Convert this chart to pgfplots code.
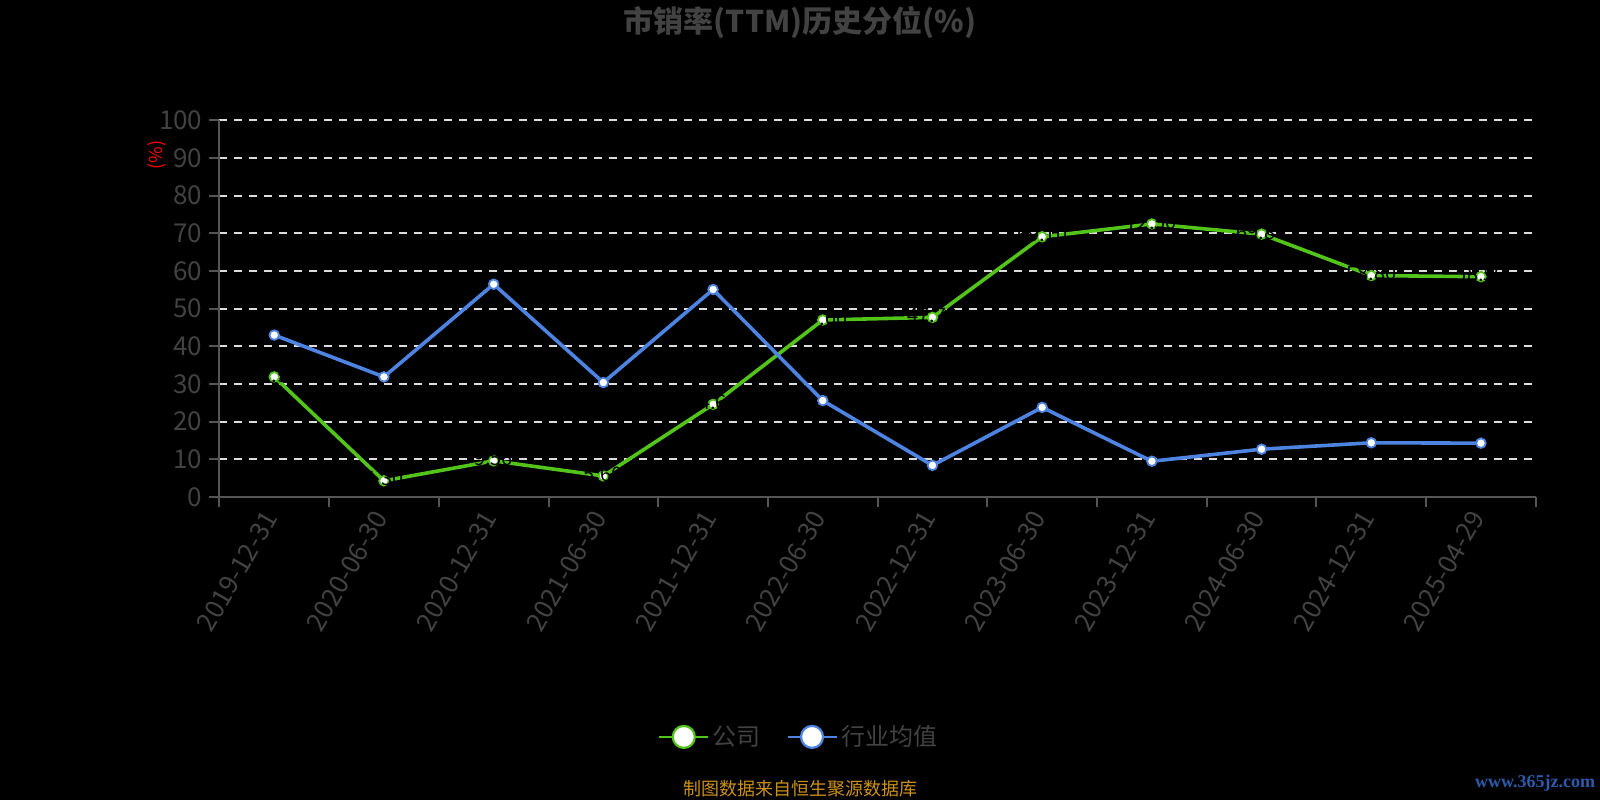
\documentclass[border=0pt]{standalone}
\usepackage{fontspec}
\setmainfont{Noto Sans CJK SC}
\usepackage{pgfplots}
\pgfplotsset{compat=1.18}

\definecolor{txt}{RGB}{66,66,66}
\definecolor{axc}{RGB}{85,85,85}
\definecolor{gridc}{RGB}{220,220,220}
\definecolor{gs}{RGB}{82,196,26}
\definecolor{hy}{RGB}{77,132,226}
\definecolor{foot}{RGB}{204,145,26}
\definecolor{wm}{RGB}{45,90,170}

\begin{document}
\begin{tikzpicture}
\fill[black] (0,0) rectangle (800pt,400pt);
\useasboundingbox (0,0) rectangle (800pt,400pt);

% title
\node[text=txt, font=\fontsize{15pt}{18pt}\selectfont\bfseries] at (400pt,388.7pt) {市销率(TTM)历史分位(\%)};
% y unit
\node[text=red, rotate=90, font=\fontsize{9pt}{11pt}\selectfont] at (78.5pt,322.5pt) {(\%)};

\begin{axis}[
  at={(109.7pt,151.5pt)}, anchor=south west,
  scale only axis, width=658.2pt, height=188.3pt,
  xmin=-0.5, xmax=11.5, ymin=0, ymax=100,
  axis x line*=bottom, axis y line*=left,
  axis line style={draw=axc, line width=1pt},
  tick align=outside, major tick length=5pt,
  tick style={draw=axc, line width=1pt},
  ytick={10,20,...,100},
  extra y ticks={0}, extra y tick style={grid=none},
  ymajorgrids,
  grid style={draw=gridc, line width=1pt, dash pattern=on 4pt off 3.5pt},
  xtick={-0.5,0.5,...,11.5},
  xticklabels={2019-12-31,2020-06-30,2020-12-31,2021-06-30,2021-12-31,2022-06-30,2022-12-31,2023-06-30,2023-12-31,2024-06-30,2024-12-31,2025-04-29,{}},
  xticklabel style={xshift=27.4pt, rotate=60, anchor=east, text=txt, font=\fontsize{13pt}{15pt}\selectfont},
  yticklabel style={text=txt, font=\fontsize{13pt}{15pt}\selectfont},
  /pgf/number format/assume math mode=true,
  legend image code/.code={
    \draw[#1, line width=0.6pt] (0pt,0pt) -- (24.5pt,0pt);
    \draw[#1, fill=white, line width=1.1pt] (12.25pt,0pt) circle (5.5pt);
  },
  legend style={draw=none, fill=none, text=txt, font=\fontsize{12pt}{14pt}\selectfont,
    at={(0.441,-0.637)}, anchor=center,
    /tikz/every even column/.append style={column sep=11pt}},
  legend columns=2,
]
\addplot[draw=gs, line width=1.8pt, mark=*, mark size=2.4pt,
  mark options={fill=white, draw=gs, line width=0.9pt},
  nodes near coords, point meta=explicit symbolic,
  every node near coord/.append style={text=black, anchor=center, yshift=1pt, font=\fontsize{10pt}{11pt}\selectfont}]
  coordinates {
  (0,31.9)[31.90] (1,4.3)[4.30] (2,9.6)[9.56] (3,5.6)[5.60] (4,24.6)[24.60] (5,47.0)[47.00]
  (6,47.7)[47.70] (7,69.1)[69.10] (8,72.5)[72.50] (9,69.8)[69.80] (10,58.8)[58.80] (11,58.5)[58.50]
  };
\addlegendentry{公司}
\addplot[draw=hy, line width=1.8pt, mark=*, mark size=2.4pt,
  mark options={fill=white, draw=hy, line width=0.9pt}]
  coordinates {
  (0,43.0) (1,31.9) (2,56.5) (3,30.4) (4,55.1) (5,25.6)
  (6,8.4) (7,23.8) (8,9.5) (9,12.7) (10,14.4) (11,14.3)
  };
\addlegendentry{行业均值}
\end{axis}

% footer and watermark
\node[text=foot, font=\fontsize{9pt}{11pt}\selectfont] at (400pt,5.5pt) {制图数据来自恒生聚源数据库};
\node[text=wm, font=\fontspec{Liberation Serif}\bfseries\fontsize{9pt}{11pt}\selectfont] at (767.5pt,8.5pt) {www.365jz.com};
\end{tikzpicture}
\end{document}
